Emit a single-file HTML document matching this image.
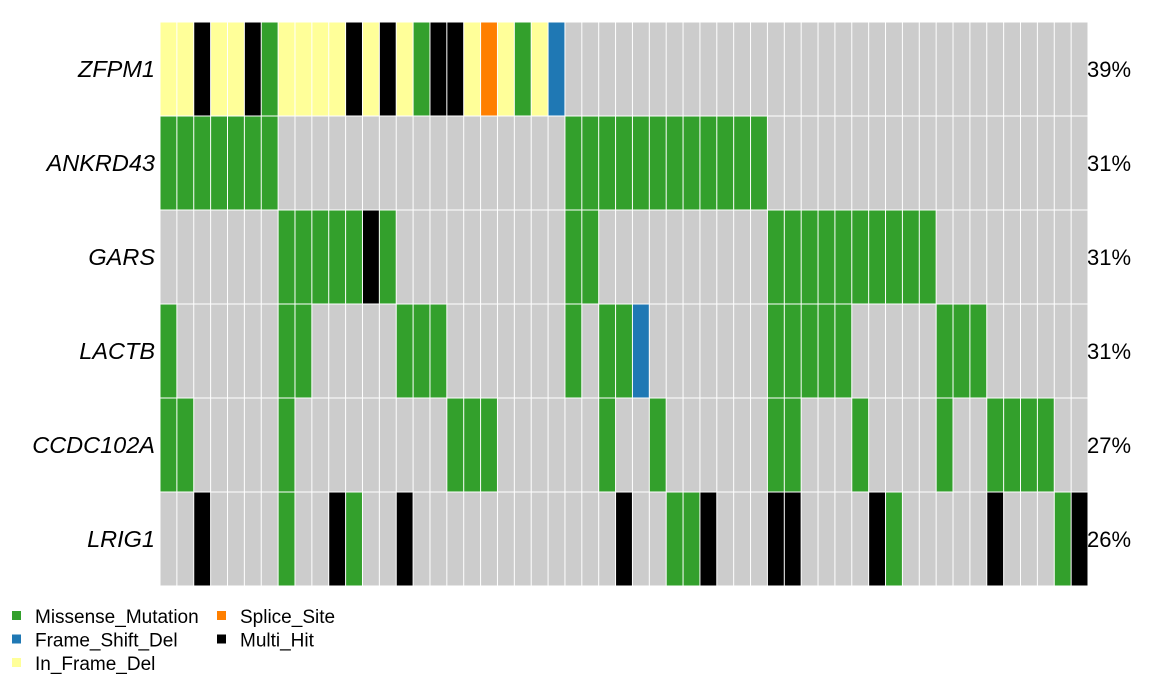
<!DOCTYPE html>
<html><head><meta charset="utf-8"><style>
body{margin:0;background:#fff;width:1167px;height:685px;overflow:hidden;font-family:"Liberation Sans",sans-serif}
</style></head><body>
<svg id="chart" width="1167" height="685" xmlns="http://www.w3.org/2000/svg"></svg>
<script>
const genes=["ZFPM1","ANKRD43","GARS","LACTB","CCDC102A","LRIG1"];
const percents=["39%","31%","31%","31%","27%","26%"];
const nSamples=55;
// codes: G=Missense, B=Frame_Shift_Del, Y=In_Frame_Del, O=Splice_Site, K=Multi_Hit
const rowZFPM1={0:"Y",1:"Y",2:"K",3:"Y",4:"Y",5:"K",6:"G",7:"Y",8:"Y",9:"Y",10:"Y",11:"K",12:"Y",13:"K",14:"Y",15:"G",16:"K",17:"K",18:"Y",19:"O",20:"Y",21:"G",22:"Y",23:"B"};
const rowANKRD43={0:"G",1:"G",2:"G",3:"G",4:"G",5:"G",6:"G",24:"G",25:"G",26:"G",27:"G",28:"G",29:"G",30:"G",31:"G",32:"G",33:"G",34:"G",35:"G"};
const rowGARS={7:"G",8:"G",9:"G",10:"G",11:"G",12:"K",13:"G",24:"G",25:"G",36:"G",37:"G",38:"G",39:"G",40:"G",41:"G",42:"G",43:"G",44:"G",45:"G"};
const rowLACTB={0:"G",7:"G",8:"G",14:"G",15:"G",16:"G",24:"G",26:"G",27:"G",28:"B",36:"G",37:"G",38:"G",39:"G",40:"G",46:"G",47:"G",48:"G"};
const rowCCDC102A={0:"G",1:"G",7:"G",17:"G",18:"G",19:"G",26:"G",29:"G",36:"G",37:"G",41:"G",46:"G",49:"G",50:"G",51:"G",52:"G"};
const rowLRIG1={2:"K",7:"G",10:"K",11:"G",14:"K",27:"K",30:"G",31:"G",32:"K",36:"K",37:"K",42:"K",43:"G",49:"K",53:"G",54:"K"};
const rows=[rowZFPM1,rowANKRD43,rowGARS,rowLACTB,rowCCDC102A,rowLRIG1];
const legendLabels=["Missense_Mutation","Frame_Shift_Del","In_Frame_Del","Splice_Site","Multi_Hit"];
const legendCodes=["G","B","Y","O","K"];
const colors={G:"#33A02C",B:"#1F78B4",Y:"#FFFF99",O:"#FF7F00",K:"#000000",none:"#CCCCCC"};
const NS="http://www.w3.org/2000/svg";
const svg=document.getElementById('chart');
const x0=160,x1=1088,y0=22,y1=586;
const cw=(x1-x0)/nSamples, rh=(y1-y0)/genes.length;
const xs=i=>x0+i*cw, ys=j=>y0+j*rh;
function mk(t,a){const e=document.createElementNS(NS,t);for(const k in a)e.setAttribute(k,a[k]);svg.appendChild(e);return e;}
rows.forEach((row,j)=>{
  for(let i=0;i<nSamples;i++){
    const c=row[i]||"none";
    const r=mk('rect',{x:xs(i)+0.5,y:ys(j)+0.5,width:cw-1,height:rh-1,fill:colors[c]});
    
    
  }
  const t=mk('text',{x:155,y:ys(j)+rh/2+8,'text-anchor':'end','font-size':23.5,'font-style':'italic',fill:'#000'});
  t.textContent=genes[j];
  
  
  const p=mk('text',{x:1087,y:ys(j)+rh/2+8,'font-size':22,fill:'#000'});
  p.textContent=percents[j];
  
  
});
legendLabels.forEach((lab,k)=>{
  const col=k<3?0:1, row=k<3?k:k-3;
  const lx=col?217:12, ly=617+row*23.5;
  const s=mk('rect',{x:lx,y:ly-6,width:9,height:9,fill:colors[legendCodes[k]]});
  
  
  const t=mk('text',{x:lx+23,y:ly+6,'font-size':19,fill:'#000'});
  t.textContent=lab;
  
  
});
</script>
</body></html>
